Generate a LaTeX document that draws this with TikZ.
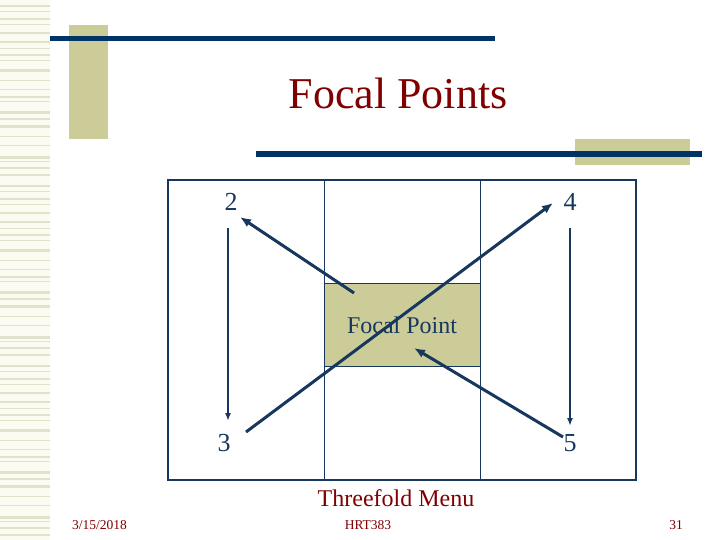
\documentclass[tikz,border=0pt]{standalone}
\usepackage{fontspec}
\setmainfont{Liberation Serif}
\usetikzlibrary{arrows.meta}
\definecolor{navy}{HTML}{003366}
\definecolor{arrowc}{HTML}{17375E}
\definecolor{tan}{HTML}{CCCC99}
\definecolor{dred}{HTML}{800000}
\definecolor{stripe}{HTML}{E2E2CC}
\definecolor{creambg}{HTML}{FBFBF2}
\tikzset{
  stripeline/.style={fill=stripe, draw=none},
  boxline/.style={draw=arrowc, line width=1.2pt},
  bigarrow/.style={draw=arrowc, line width=3pt, -{Latex[length=11pt,width=9pt]}},
  thinarrow/.style={draw=arrowc, line width=2pt, -{Latex[length=8pt,width=6pt]}},
  numlabel/.style={text=arrowc, font=\fontsize{26}{30}\selectfont, inner sep=0pt},
  footer/.style={text=dred, font=\fontsize{13.5}{15}\selectfont, inner sep=0pt}
}
\begin{document}
\begin{tikzpicture}[x=1pt,y=-1pt]
\useasboundingbox (0,0) rectangle (720,540);
\fill[white] (0,0) rectangle (720,540);
% left striped strip
\fill[creambg] (0,0) rectangle (50,540);
\foreach \off in {0,180,360}{
  \foreach \yy/\hh in {5/2,11/1,18/2,24/1,32/2,41/2,48/1,54/2,60/1,69/3,80/1,89/1,96/2,101/1,111/3,118/2,125/3,136/1,145/1,156/3,161/1,167/2,174/2}{
    \fill[stripeline] (0,\off+\yy) rectangle (50,\off+\yy+\hh);
  }
}
% decorations
\fill[tan] (69,25) rectangle (108,139);
\fill[navy] (50,36) rectangle (495,41);
\fill[tan] (575,139) rectangle (690,165);
\fill[navy] (256,151) rectangle (702,157);
% title
\node[text=dred, font=\fontsize{44}{50}\selectfont, inner sep=0pt] (title) at (398,93) {Focal Points};
% diagram frame
\draw[boxline] (168,180) rectangle (636,480);
\draw[boxline, line width=0.9pt] (324,180) -- (324,480);
\draw[boxline, line width=0.9pt] (480,180) -- (480,480);
\node[fill=tan, draw=arrowc, line width=0.9pt, minimum width=156pt, minimum height=83pt, inner sep=0pt, anchor=north west] (focal) at (324,283) {};
\node[text=arrowc, font=\fontsize{24}{28}\selectfont, inner sep=0pt] (fptext) at (402,325) {Focal Point};
% numbers
\node[numlabel] (n2) at (231,202) {2};
\node[numlabel] (n4) at (570,202) {4};
\node[numlabel] (n3) at (224,443) {3};
\node[numlabel] (n5) at (570,443) {5};
% arrow endpoints
\coordinate (a1s) at (354,293);
\coordinate (a1e) at (240,217);
\coordinate (a2s) at (246,432);
\coordinate (a2e) at (553,203);
\coordinate (a3s) at (563,437);
\coordinate (a3e) at (414,348);
\coordinate (v1s) at (228,228);
\coordinate (v1e) at (228,421);
\coordinate (v2s) at (570,228);
\coordinate (v2e) at (570,426);
\draw[bigarrow] (a1s) -- (a1e);
\draw[bigarrow] (a2s) -- (a2e);
\draw[bigarrow] (a3s) -- (a3e);
\draw[thinarrow] (v1s) -- (v1e);
\draw[thinarrow] (v2s) -- (v2e);
% caption
\node[text=dred, font=\fontsize{24}{28}\selectfont, inner sep=0pt] (cap) at (396,498) {Threefold Menu};
% footer
\node[footer, anchor=west] (date) at (72,525) {3/15/2018};
\node[footer] (course) at (368,525) {HRT383};
\node[footer, anchor=east] (page) at (683,525) {31};
\end{tikzpicture}
\end{document}
